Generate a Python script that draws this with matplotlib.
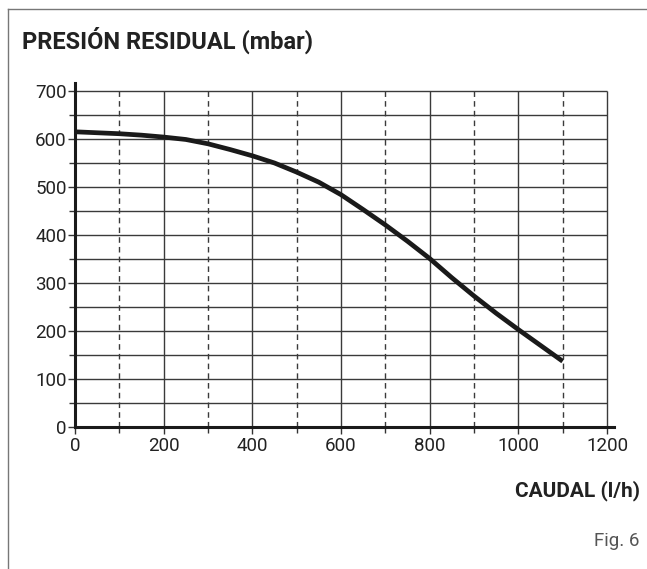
#!/usr/bin/env python3
"""Residual pressure vs flow curve (Fig. 6)."""
import matplotlib
matplotlib.use("Agg")
import matplotlib.pyplot as plt
from matplotlib.lines import Line2D

# curve (l/h, mbar)
caudal = [0, 50, 100, 150, 200, 250, 300, 350, 400, 450, 500, 550,
          600, 650, 700, 750, 800, 850, 900, 950, 1000, 1050, 1100]
presion = [615, 613, 611, 608, 604, 599, 590, 578, 565, 550, 531, 510,
           484, 453, 421, 387, 351, 311, 273, 237, 203, 170, 137]

x_major = [0, 200, 400, 600, 800, 1000, 1200]
x_dashed = [100, 300, 500, 700, 900, 1100]
y_major = [0, 100, 200, 300, 400, 500, 600, 700]
y_minor = [50, 150, 250, 350, 450, 550, 650]

plt.rcParams["font.family"] = ["Roboto", "DejaVu Sans"]

W, H = 647, 569
fig = plt.figure(figsize=(W / 100, H / 100), dpi=100)

# axes: x 0 at px 75, 1200 at px 607; y 0 at px 427, 700 at px 91
px_per_x = (607 - 75) / 1200
px_per_y = (427 - 91) / 700
xmax = 1215
ymax = 717
left = 75 / W
bottom = 1 - 427 / H
ax = fig.add_axes([left, bottom, xmax * px_per_x / W, ymax * px_per_y / H])
ax.set_xlim(0, xmax)
ax.set_ylim(0, ymax)

grid_c = "#3a3a3a"
ax.hlines(y_major[1:] + y_minor, 0, 1200, color=grid_c, lw=1.0, zorder=1)
ax.vlines(x_major[1:], 0, 700, color=grid_c, lw=1.0, zorder=1)
ax.vlines(x_dashed, 0, 700, color=grid_c, lw=1.0, linestyles=(0, (4, 3)), zorder=1)

ax.plot(caudal, presion, color="#1a1a1a", lw=3.4, solid_capstyle="butt",
        solid_joinstyle="round", zorder=3)

for s in ("top", "right"):
    ax.spines[s].set_visible(False)
for s in ("left", "bottom"):
    ax.spines[s].set_linewidth(2.2)
    ax.spines[s].set_color("#1a1a1a")

ax.set_xticks(x_major)
ax.set_xticks(x_dashed, minor=True)
ax.set_yticks(y_major)
ax.set_yticks(y_minor, minor=True)
ax.tick_params(axis="both", which="major", length=5, width=1.0, color="#333333",
               labelsize=13.5, labelcolor="#222222", pad=1)
ax.tick_params(axis="both", which="minor", length=4, width=1.0, color="#333333")
ax.tick_params(axis="x", which="major", pad=2)

fig.text(22 / W, 1 - 49 / H, "PRESIÓN RESIDUAL (mbar)", fontsize=17,
         fontweight="bold", color="#222222", ha="left", va="baseline")
fig.text(640 / W, 1 - 496 / H, "CAUDAL (l/h)", fontsize=15,
         fontweight="bold", color="#222222", ha="right", va="baseline")
fig.text(640 / W, 1 - 546 / H, "Fig. 6", fontsize=13.5,
         color="#555555", ha="right", va="baseline")

# frame lines (top and left)
frame_c = "#777777"
fig.add_artist(Line2D([8 / W, 1], [1 - 9 / H, 1 - 9 / H], color=frame_c, lw=1.0))
fig.add_artist(Line2D([8 / W, 8 / W], [0, 1 - 9 / H], color=frame_c, lw=1.0))

fig.savefig("out.png", dpi=100)
